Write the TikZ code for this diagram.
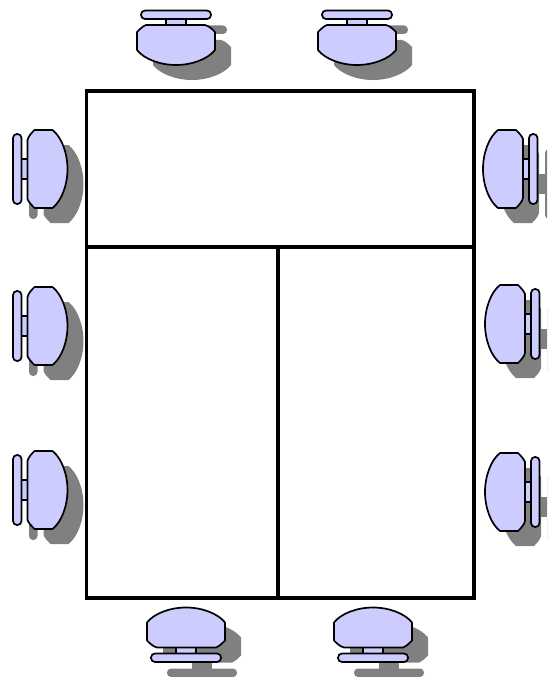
\documentclass[tikz,border=0pt]{standalone}
\definecolor{chairfill}{HTML}{CCCCFF}
\definecolor{chairshadow}{HTML}{808080}
\newcommand{\chairbar}{(-35,-27.5) [rounded corners=4pt] -- (35,-27.5) -- (35,-19) -- (-35,-19) -- cycle}
\newcommand{\chairlink}{(-10,-19) rectangle (10,-12)}
\newcommand{\chairseat}{(-30,-13) -- (29,-13) .. controls (33,-12) and (36,-9) .. (39,-6) -- (39,12) .. controls (32,21) and (16,27) .. (0,27) .. controls (-16,27) and (-32,21) .. (-39,12) -- (-39,-6) .. controls (-36,-9) and (-33,-12) .. (-30,-13) -- cycle}
\newcommand{\chairshade}[3]{\begin{scope}[shift={(#1+16,#2+15)},rotate=#3]
  \fill[chairshadow] \chairbar; \fill[chairshadow] \chairlink; \fill[chairshadow] \chairseat;
\end{scope}}
\newcommand{\chairbody}[3]{\begin{scope}[shift={(#1,#2)},rotate=#3,chairline]
  \filldraw \chairlink; \filldraw \chairbar; \filldraw \chairseat;
\end{scope}}
\begin{document}
\begin{tikzpicture}[x=1pt,y=-1pt,
  chairline/.style={draw=black,fill=chairfill,line width=1.7pt,line join=round},
  tableline/.style={draw=black,line width=3.4pt,line join=miter}]
\useasboundingbox (0,0) rectangle (547,677);
\clip (0,0) rectangle (547,677);
\foreach \cx/\cy/\r in {176/38/0,357/38/0,40.5/169/90,40.5/326/90,40.5/490/90,510/169/-90,512/324/-90,512/492/-90,186/634.5/180,373/634.5/180}{
  \chairshade{\cx}{\cy}{\r}
}
\draw[tableline] (86.5,91) rectangle (474,598);
\draw[tableline] (86.5,247) -- (474,247);
\draw[tableline] (278,247) -- (278,598);
\foreach \cx/\cy/\r in {176/38/0,357/38/0,40.5/169/90,40.5/326/90,40.5/490/90,510/169/-90,512/324/-90,512/492/-90,186/634.5/180,373/634.5/180}{
  \chairbody{\cx}{\cy}{\r}
}
\end{tikzpicture}
\end{document}
